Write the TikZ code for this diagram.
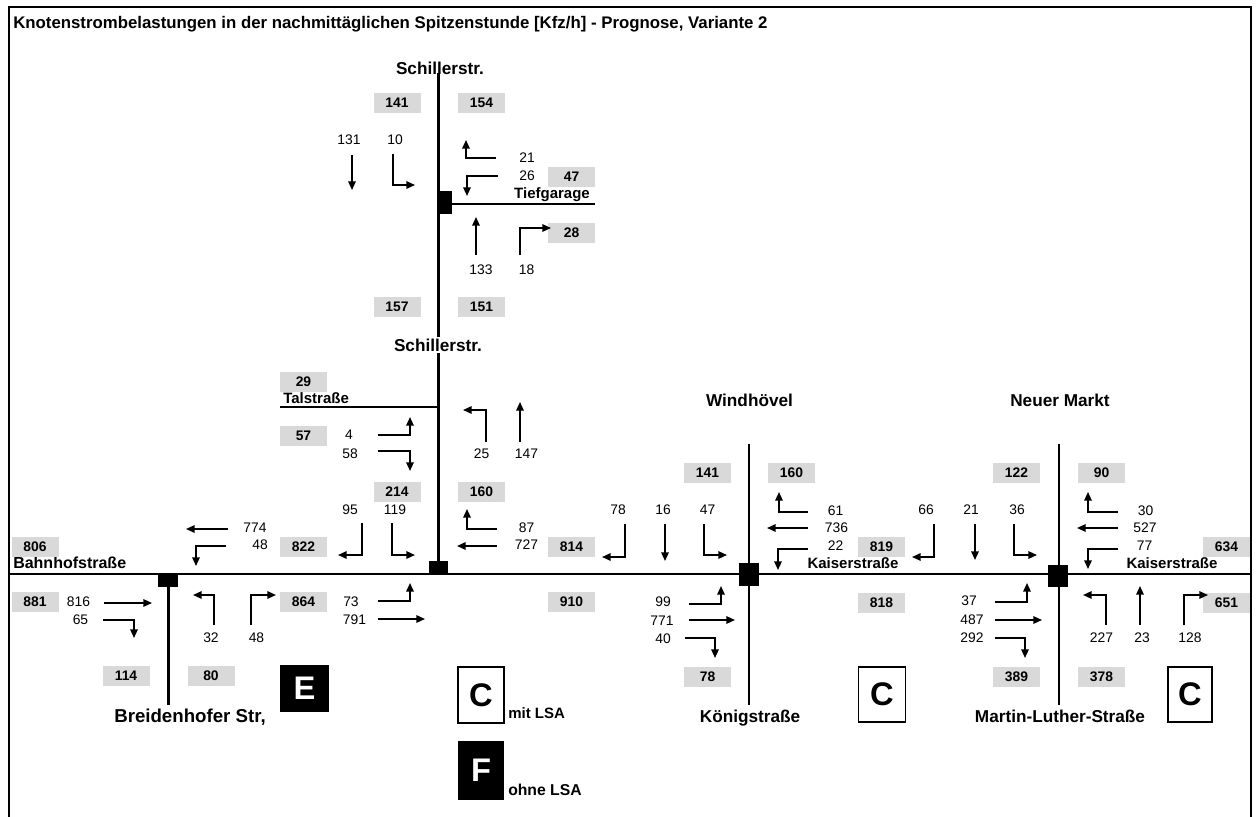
\documentclass[tikz,border=0pt]{standalone}
\usepackage{fontspec}
\setmainfont{Liberation Sans}
\usetikzlibrary{arrows.meta}
\definecolor{boxgray}{RGB}{217,217,217}
\newcommand\fnum{\fontsize{10.4}{12}\selectfont}
\newcommand\flab{\bfseries\fontsize{11.25}{13}\selectfont}
\newcommand\froad{\bfseries\fontsize{12.9}{15}\selectfont}
\newcommand\fbig{\bfseries\fontsize{24.5}{28}\selectfont}
\tikzset{
  num/.style={inner sep=0pt,font=\fnum},
  gbox/.style={fill=boxgray,inner sep=0pt,minimum width=35.25pt,minimum height=15pt,font=\fnum\bfseries},
  lab/.style={inner sep=0pt,font=\flab,anchor=base},
  rlab/.style={inner sep=0pt,font=\froad,anchor=base},
  road/.style={line width=2.2pt},
  thinroad/.style={line width=1.6pt},
  junc/.style={fill=black,inner sep=0pt,draw=none},
  mv/.style={line width=1.3pt,-{Triangle[length=6.5pt,width=5.6pt]}},
  losw/.style={draw=black,line width=0.8pt,fill=white,inner sep=0pt,font=\fbig},
  losb/.style={fill=black,inner sep=0pt,font=\fbig,text=white},
}
\begin{document}
\begin{tikzpicture}[x=0.75pt,y=-0.75pt]
\useasboundingbox (0,0) rectangle (1258,817);
% frame
\coordinate (fbl) at (8.5,817);
\coordinate (ftl) at (8.5,7.5);
\coordinate (ftr) at (1251,7.5);
\coordinate (fbr) at (1251,817);
\draw[line width=1.5pt] (fbl) -- (ftl) -- (ftr) -- (fbr);
\node[anchor=base west,inner sep=0pt,font=\bfseries\fontsize{12.6}{15}\selectfont] (title) at (13,29) {Knotenstrombelastungen in der nachmittäglichen Spitzenstunde [Kfz/h] - Prognose, Variante 2};

% road coordinates
\coordinate (mainL) at (8.5,574);
\coordinate (mainR) at (1251,574);
\coordinate (schT) at (438.5,73);
\coordinate (schB) at (438.5,574);
\coordinate (tgE) at (595,204);
\coordinate (tgW) at (438.5,204);
\coordinate (talW) at (280,407);
\coordinate (talE) at (438.5,407);
\coordinate (brT) at (168.5,574);
\coordinate (brB) at (168.5,705);
\coordinate (whT) at (749,444);
\coordinate (whB) at (749,705);
\coordinate (nmT) at (1059,444);
\coordinate (nmB) at (1059,705);
\draw[road] (mainL) -- (mainR);
\draw[line width=1.9pt] (schT) -- (schB);
\draw[road] (tgW) -- (tgE);
\draw[road] (talW) -- (talE);
\draw[road] (brT) -- (brB);
\draw[thinroad] (whT) -- (whB);
\draw[thinroad] (nmT) -- (nmB);

% junctions
\node[junc,minimum width=15pt,minimum height=11pt] (j1) at (168,580) {};
\node[junc,minimum width=14.25pt,minimum height=10.5pt] (j2) at (438.5,568) {};
\node[junc,minimum width=10.5pt,minimum height=17.25pt] (jtg) at (445,202.5) {};
\node[junc,minimum width=15pt,minimum height=17.25pt] (jwh) at (749,574.5) {};
\node[junc,minimum width=15pt,minimum height=16.5pt] (jnm) at (1058,576) {};

% street labels
\node[rlab] (lschT) at (440,75) {Schillerstr.};
\node[rlab,fill=white,inner sep=1pt] (lschM) at (438,351) {Schillerstr.};
\node[lab] (ltg) at (552,199) {Tiefgarage};
\node[lab,anchor=base west] (ltal) at (283,403) {Talstraße};
\node[lab,anchor=base west,font=\bfseries\fontsize{12}{14}\selectfont] (lbahn) at (13,568) {Bahnhofstraße};
\node[lab] (lkai1) at (853,568) {Kaiserstraße};
\node[lab] (lkai2) at (1172,568) {Kaiserstraße};
\node[rlab] (lwh) at (749.5,406) {Windhövel};
\node[rlab] (lnm) at (1060,406) {Neuer Markt};
\node[rlab,font=\bfseries\fontsize{14}{16}\selectfont] (lbr) at (190,722) {Breidenhofer Str,};
\node[rlab] (lkoe) at (750,722) {Königstraße};
\node[rlab] (lml) at (1060,722) {Martin-Luther-Straße};

% gray boxes
\node[gbox] (b141) at (397,103) {141};
\node[gbox] (b154) at (481.5,103) {154};
\node[gbox] (b47) at (571.5,177) {47};
\node[gbox] (b28) at (571.5,233) {28};
\node[gbox] (b157) at (397,307) {157};
\node[gbox] (b151) at (481.5,307) {151};
\node[gbox] (b29) at (303.5,381.5) {29};
\node[gbox] (b57) at (303.5,435.5) {57};
\node[gbox] (b214) at (397,492) {214};
\node[gbox] (b160) at (481.5,492) {160};
\node[gbox] (b822) at (303.5,546.5) {822};
\node[gbox] (b806) at (35,546.5) {806};
\node[gbox] (b881) at (35,602) {881};
\node[gbox] (b864) at (303.5,602) {864};
\node[gbox] (b114) at (126,676) {114};
\node[gbox] (b80) at (211,676) {80};
\node[gbox] (b814) at (571.5,547) {814};
\node[gbox] (b910) at (571.5,602) {910};
\node[gbox] (b141w) at (707.5,473) {141};
\node[gbox] (b160w) at (791.5,473) {160};
\node[gbox] (b78w) at (707.5,677) {78};
\node[gbox] (b819) at (881.5,547) {819};
\node[gbox] (b818) at (881.5,602.5) {818};
\node[gbox] (b122) at (1016.5,473) {122};
\node[gbox] (b90) at (1101.5,473) {90};
\node[gbox] (b389) at (1016.5,677) {389};
\node[gbox] (b378) at (1101.5,677) {378};
\node[gbox] (b634) at (1226.5,547) {634};
\node[gbox] (b651) at (1226.5,602.5) {651};

% numbers
\node[num] (n131) at (349,140) {131};
\node[num] (n10) at (395,140) {10};
\node[num] (n21) at (527,158) {21};
\node[num] (n26) at (527,176) {26};
\node[num] (n133) at (481,270) {133};
\node[num] (n18) at (526.5,270) {18};
\node[num] (n4) at (349,435) {4};
\node[num] (n58) at (350,454) {58};
\node[num] (n25) at (481.5,454) {25};
\node[num] (n147) at (526.5,454) {147};
\node[num] (n95) at (350,510) {95};
\node[num] (n119) at (395,510) {119};
\node[num] (n87) at (526.5,528) {87};
\node[num] (n727) at (526.5,545) {727};
\node[num] (n774) at (255,528) {774};
\node[num] (n48a) at (260,545) {48};
\node[num] (n816) at (78.5,602) {816};
\node[num] (n65) at (80.5,620) {65};
\node[num] (n32) at (211,638) {32};
\node[num] (n48b) at (256.5,638) {48};
\node[num] (n73) at (351,602) {73};
\node[num] (n791) at (354.5,620) {791};
\node[num] (n78) at (618,510) {78};
\node[num] (n16) at (663,510) {16};
\node[num] (n47) at (707.5,510) {47};
\node[num] (n61) at (835.5,511) {61};
\node[num] (n736) at (836.5,528) {736};
\node[num] (n22) at (835.5,546) {22};
\node[num] (n99) at (663,602) {99};
\node[num] (n771) at (662,621) {771};
\node[num] (n40) at (663,639) {40};
\node[num] (n66) at (926,510) {66};
\node[num] (n21b) at (971,510) {21};
\node[num] (n36) at (1017,510) {36};
\node[num] (n30) at (1145.5,511) {30};
\node[num] (n527) at (1145,528) {527};
\node[num] (n77) at (1144.5,546) {77};
\node[num] (n37) at (969,601) {37};
\node[num] (n487) at (972,620) {487};
\node[num] (n292) at (972,638) {292};
\node[num] (n227) at (1101.5,638) {227};
\node[num] (n23) at (1142,638) {23};
\node[num] (n128) at (1190,638) {128};

% movement arrows - Tiefgarage
\draw[mv] (352,155) -- (352,190);
\draw[mv] (393,154) -- (393,185) -- (415,185);
\draw[mv] (496,158) -- (466,158) -- (466,140);
\draw[mv] (498,176) -- (467,176) -- (467,196);
\draw[mv] (476,255) -- (476,217);
\draw[mv] (520,255) -- (520,228) -- (551,228);
% Talstrasse / Schillerstr
\draw[mv] (378,435) -- (410,435) -- (410,417);
\draw[mv] (378,451) -- (410,451) -- (410,471);
\draw[mv] (486,442) -- (486,410) -- (463,410);
\draw[mv] (520,442) -- (520,402);
\draw[mv] (362,523) -- (362,555) -- (338,555);
\draw[mv] (392,523) -- (392,555) -- (415,555);
\draw[mv] (497,529) -- (467,529) -- (467,509);
\draw[mv] (497,546) -- (457,546);
\draw[mv] (378,601) -- (410,601) -- (410,583);
\draw[mv] (378,619) -- (425,619);
% Breidenhofer
\draw[mv] (228,529) -- (186,529);
\draw[mv] (226,546) -- (196,546) -- (196,566);
\draw[mv] (104,603) -- (152,603);
\draw[mv] (103,620) -- (134,620) -- (134,638);
\draw[mv] (214,625) -- (214,595) -- (193,595);
\draw[mv] (251,625) -- (251,595) -- (276,595);
% Windhoevel
\draw[mv] (625,524) -- (625,557) -- (602,557);
\draw[mv] (665,524) -- (665,561);
\draw[mv] (704,524) -- (704,555) -- (727,555);
\draw[mv] (808,512) -- (779,512) -- (779,492);
\draw[mv] (808,528) -- (767,528);
\draw[mv] (808,549) -- (778,549) -- (778,570);
\draw[mv] (689,604) -- (721,604) -- (721,586);
\draw[mv] (689,620) -- (735,620);
\draw[mv] (685,638) -- (715,638) -- (715,658);
% Neuer Markt
\draw[mv] (934,524) -- (934,557) -- (912,557);
\draw[mv] (975,524) -- (975,560);
\draw[mv] (1014,524) -- (1014,555) -- (1037,555);
\draw[mv] (1118,512) -- (1088,512) -- (1088,492);
\draw[mv] (1118,528) -- (1077,528);
\draw[mv] (1118,549) -- (1088,549) -- (1088,569);
\draw[mv] (995,602) -- (1027,602) -- (1027,583);
\draw[mv] (995,620) -- (1042,620);
\draw[mv] (995,638) -- (1025,638) -- (1025,658);
\draw[mv] (1106,625) -- (1106,595) -- (1083,595);
\draw[mv] (1140,625) -- (1140,586);
\draw[mv] (1184,625) -- (1184,595) -- (1208,595);

% level of service boxes
\node[losb,minimum width=36.75pt,minimum height=35.25pt] (losE) at (304.5,688.5) {E};
\node[losw,minimum width=34.5pt,minimum height=42pt] (losC1) at (481,695) {C};
\node[losb,minimum width=34.5pt,minimum height=44.25pt] (losF) at (481,770.5) {F};
\node[losw,minimum width=35.25pt,minimum height=41.25pt] (losC2) at (882,694.5) {C};
\node[losw,minimum width=33pt,minimum height=41.25pt] (losC3) at (1190,694.5) {C};
\node[lab,anchor=base west] (lmit) at (508,718) {mit LSA};
\node[lab,anchor=base west,font=\bfseries\fontsize{11.8}{14}\selectfont] (lohne) at (508,795) {ohne LSA};
\end{tikzpicture}
\end{document}
